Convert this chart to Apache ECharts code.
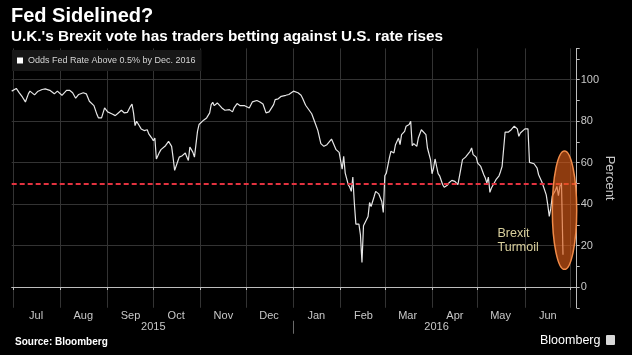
<!DOCTYPE html>
<html><head><meta charset="utf-8">
<script src="https://cdn.jsdelivr.net/npm/echarts@6/dist/echarts.min.js"></script>
<style>html,body{margin:0;padding:0;background:#000}#c{width:632px;height:355px}</style>
</head><body><div id="c"></div>
<script>
// ---------- data ----------
const dates = [
'2015-06-30','2015-07-03','2015-07-05','2015-07-07','2015-07-09','2015-07-11','2015-07-12','2015-07-15','2015-07-17','2015-07-20',
'2015-07-22','2015-07-25','2015-07-28','2015-07-30','2015-07-31','2015-08-02','2015-08-03','2015-08-05','2015-08-07','2015-08-08',
'2015-08-09','2015-08-11','2015-08-13','2015-08-16','2015-08-18','2015-08-20','2015-08-23','2015-08-25','2015-08-26','2015-08-28',
'2015-08-30','2015-09-01','2015-09-04','2015-09-06','2015-09-08','2015-09-10','2015-09-12','2015-09-14','2015-09-16','2015-09-17',
'2015-09-18','2015-09-19','2015-09-20','2015-09-22','2015-09-23','2015-09-24','2015-09-25','2015-09-27','2015-09-28','2015-09-30',
'2015-10-01','2015-10-02','2015-10-03','2015-10-05','2015-10-06','2015-10-07','2015-10-09','2015-10-11','2015-10-12','2015-10-13',
'2015-10-14','2015-10-15','2015-10-17','2015-10-18','2015-10-20','2015-10-22','2015-10-23','2015-10-24','2015-10-25','2015-10-27',
'2015-10-28','2015-10-30','2015-10-31','2015-11-03','2015-11-05','2015-11-07','2015-11-08','2015-11-09','2015-11-10','2015-11-12',
'2015-11-15','2015-11-17','2015-11-18','2015-11-20','2015-11-22','2015-11-23','2015-11-25','2015-11-27','2015-11-30','2015-12-03',
'2015-12-05','2015-12-08','2015-12-10','2015-12-12','2015-12-13','2015-12-14','2015-12-16','2015-12-19','2015-12-20','2015-12-22',
'2015-12-24','2015-12-27','2015-12-29','2016-01-01','2016-01-04','2016-01-06','2016-01-07','2016-01-09','2016-01-10','2016-01-13',
'2016-01-15','2016-01-17','2016-01-19','2016-01-20','2016-01-21','2016-01-23','2016-01-24','2016-01-26','2016-01-27','2016-01-29',
'2016-01-30','2016-01-31','2016-02-02','2016-02-03','2016-02-04','2016-02-06','2016-02-07','2016-02-08','2016-02-09','2016-02-10',
'2016-02-11','2016-02-13','2016-02-14','2016-02-15','2016-02-16','2016-02-17','2016-02-19','2016-02-20','2016-02-21','2016-02-23',
'2016-02-24','2016-02-26','2016-02-28','2016-02-29','2016-03-01','2016-03-02','2016-03-04','2016-03-05','2016-03-07','2016-03-08',
'2016-03-10','2016-03-11','2016-03-12','2016-03-14','2016-03-15','2016-03-17','2016-03-18','2016-03-19','2016-03-20','2016-03-22',
'2016-03-23','2016-03-25','2016-03-26','2016-03-28','2016-03-29','2016-03-31','2016-04-01','2016-04-02','2016-04-03','2016-04-04',
'2016-04-05','2016-04-06','2016-04-08','2016-04-09','2016-04-11','2016-04-12','2016-04-14','2016-04-15','2016-04-16','2016-04-18',
'2016-04-19','2016-04-21','2016-04-23','2016-04-24','2016-04-26','2016-04-27','2016-04-28','2016-04-30','2016-05-01','2016-05-03',
'2016-05-05','2016-05-06','2016-05-07','2016-05-08','2016-05-09','2016-05-10','2016-05-11','2016-05-13','2016-05-15','2016-05-16',
'2016-05-17','2016-05-19','2016-05-21','2016-05-23','2016-05-25','2016-05-27','2016-05-28','2016-05-29','2016-05-30','2016-06-01',
'2016-06-03','2016-06-04','2016-06-05','2016-06-07','2016-06-09','2016-06-10','2016-06-12','2016-06-13','2016-06-15','2016-06-16',
'2016-06-17','2016-06-18','2016-06-19','2016-06-21','2016-06-22','2016-06-23','2016-06-24','2016-06-25','2016-06-26'
];
const values = [
94.4,95.7,93.6,91.6,89.2,93.2,94.4,92.6,94.2,95.2,
95.5,94.8,93.1,94.4,94.8,92.4,92.8,94.8,94.8,94.5,
93.6,91.0,92.8,93.6,93.1,89.5,87.4,83.1,81.5,81.5,
86.3,84.4,83.4,82.6,83.9,85.2,83.9,84.2,87.1,88.1,
83.9,77.8,79.9,77.5,76.2,76.7,75.4,75.8,73.8,71.8,
70.5,71.8,61.7,64.9,66.2,65.4,68.1,70.2,71.0,67.8,
62.2,56.2,60.5,62.6,63.3,64.6,62.6,61.0,67.5,64.9,
62.6,75.0,78.3,80.4,81.5,83.9,87.9,89.0,87.4,88.7,
86.3,85.2,84.4,85.5,84.4,86.3,88.4,87.4,87.4,86.3,
89.2,89.9,89.2,88.2,88.7,83.9,84.4,87.9,90.3,90.7,
91.9,92.4,92.8,94.4,93.6,92.4,91.0,87.6,87.2,83.5,
79.5,75.5,69.1,69.1,67.8,68.6,67.8,71.3,70.7,66.2,
67.0,64.9,56.8,63.0,54.9,49.3,48.1,46.1,53.0,40.4,
30.3,30.3,25.1,11.8,29.5,30.0,34.0,40.7,38.8,43.6,
46.1,44.9,41.2,35.9,53.6,54.9,62.2,65.4,64.6,68.6,
71.8,68.6,73.4,75.0,77.5,78.3,79.9,68.1,69.1,67.8,
71.8,75.8,75.0,73.4,67.0,61.4,54.6,57.3,61.7,58.1,
54.6,53.6,49.3,48.1,49.0,50.1,51.4,52.0,50.9,49.3,
53.3,61.4,62.6,63.3,65.4,67.0,63.8,62.6,59.7,58.1,
54.1,52.5,50.1,53.0,45.6,47.7,48.5,51.7,53.6,55.7,
58.1,74.7,74.6,75.8,77.5,76.2,72.6,74.2,73.4,76.2,
76.2,60.1,61.0,59.4,57.3,54.1,50.9,48.8,44.4,39.6,
34.0,38.0,44.0,46.5,48.5,44.0,48.5,50.1,15.5
];
const seriesName = 'Odds Fed Rate Above 0.5% by Dec. 2016';
const axisStart = '2015-06-30';
const axisEnd = '2016-07-05';
const monthNames = ['Jan','Feb','Mar','Apr','May','Jun','Jul','Aug','Sep','Oct','Nov','Dec'];
const yTickLabels = [0, 20, 40, 60, 80, 100];
const yearLabelDates = ['2015-10-01', '2016-04-04'];
const yearLabelTexts = ['2015', '2016'];
const thresholdValue = 50;
// annotation: [center date, center value, half-width (days), half-height (value)]
const annotationEllipse = ['2016-06-27', 37, 7.75, 28.5];
const annotationText = ['2016-05-14', 29, 'Brexit\nTurmoil'];

// ---------- build ----------
const SANS = '"Liberation Sans",Arial,sans-serif';
function ymd(t){ return new Date(t).toISOString().slice(0,10); }
const days = [];
for (let t = Date.parse(axisStart + 'T00:00:00Z'); t <= Date.parse(axisEnd + 'T00:00:00Z'); t += 86400000) days.push(ymd(t));
const seriesData = dates.map((d, i) => [d, values[i]]);

const chart = echarts.init(document.getElementById('c'), null, {renderer: 'canvas'});
chart.setOption({
  backgroundColor: '#000',
  animation: false,
  title: [
    {text: 'Fed Sidelined?', left: 11, top: 6, padding: 0, textStyle: {color: '#fff', fontSize: 20, fontWeight: 'bold', fontFamily: SANS}},
    {text: "U.K.'s Brexit vote has traders betting against U.S. rate rises", left: 11, top: 29, padding: 0, textStyle: {color: '#fff', fontSize: 15.3, fontWeight: 'bold', fontFamily: SANS}},
    {text: 'Source: Bloomberg', left: 15, top: 337, padding: 0, textStyle: {color: '#fff', fontSize: 10, fontWeight: 'bold', fontFamily: SANS}},
    {text: 'Bloomberg', left: 540, top: 334, padding: 0, textStyle: {color: '#fff', fontSize: 12.5, fontWeight: 'normal', fontFamily: SANS}}
  ],
  graphic: [
    {type: 'rect', left: 606, top: 335, shape: {width: 9, height: 10, r: 1}, style: {fill: '#d8d8d8'}}
  ],
  legend: {
    data: [seriesName], left: 12, top: 50, padding: [6, 6, 6, 5],
    backgroundColor: '#171717', icon: 'rect', itemWidth: 6, itemHeight: 6,
    textStyle: {color: '#d4d4d4', fontSize: 9, fontFamily: SANS}
  },
  grid: {left: 11.7, right: 55.3, top: 48.4, bottom: 47.25, containLabel: false},
  xAxis: [
    {
      type: 'category', data: days, boundaryGap: false, position: 'bottom',
      axisLine: {show: true, lineStyle: {color: '#bdbdbd', width: 1}},
      axisTick: {show: true, length: 3, interval: (i, v) => v.slice(8) === '01', lineStyle: {color: '#bdbdbd'}},
      axisLabel: {interval: (i, v) => v.slice(8) === '16', formatter: v => monthNames[+v.slice(5, 7) - 1],
        color: '#c8c8c8', fontSize: 11, fontFamily: SANS, margin: 3},
      splitLine: {show: true, interval: (i, v) => v.slice(8) === '01', lineStyle: {color: '#333', width: 1}}
    },
    {
      type: 'category', data: days, boundaryGap: false, position: 'bottom', offset: 13,
      axisLine: {show: false},
      axisTick: {show: true, length: 13, interval: (i, v) => v.slice(5) === '01-01', lineStyle: {color: '#6a6a6a'}},
      axisLabel: {interval: (i, v) => yearLabelDates.indexOf(v) >= 0, formatter: v => yearLabelTexts[yearLabelDates.indexOf(v)] || '',
        color: '#c8c8c8', fontSize: 11, fontFamily: SANS, margin: 1},
      splitLine: {show: false}
    }
  ],
  yAxis: {
    type: 'value', position: 'right', min: -10, max: 115, interval: 10,
    axisLine: {show: true, lineStyle: {color: '#bdbdbd'}},
    axisTick: {show: true, length: 3, lineStyle: {color: '#bdbdbd'}},
    axisLabel: {formatter: v => yTickLabels.indexOf(v) >= 0 ? String(v) : '', color: '#c8c8c8', fontSize: 11, fontFamily: SANS, margin: 4},
    splitLine: {show: true, showMaxLine: false, lineStyle: {color: ['rgba(0,0,0,0)', '#333'], width: 1}},
    name: 'Percent', nameLocation: 'middle', nameRotate: -90, nameGap: 26, nameMoveOverlap: false,
    nameTextStyle: {color: '#c8c8c8', fontSize: 13, fontFamily: SANS}
  },
  series: [
    {
      type: 'line', name: seriesName, xAxisIndex: 0, data: seriesData, symbol: 'none', showSymbol: false,
      lineStyle: {color: '#e6e6e6', width: 1.2}, itemStyle: {color: '#ffffff'}, z: 3,
      markLine: {silent: true, symbol: 'none', label: {show: false},
        lineStyle: {color: '#e2323f', type: [5, 3], width: 2}, data: [{yAxis: thresholdValue}]}
    },
    {
      type: 'custom', name: 'ellipse', xAxisIndex: 0, silent: true, z: 6,
      data: [annotationEllipse],
      renderItem: (params, api) => {
        const ix = api.value(0), cv = api.value(1), hw = api.value(2), hh = api.value(3);
        const p0 = api.coord([ix - hw, cv + hh]);
        const p1 = api.coord([ix + hw, cv - hh]);
        return {
          type: 'ellipse',
          shape: {cx: (p0[0] + p1[0]) / 2, cy: (p0[1] + p1[1]) / 2, rx: Math.abs(p1[0] - p0[0]) / 2, ry: Math.abs(p1[1] - p0[1]) / 2},
          style: {fill: 'rgba(228,96,24,0.62)', stroke: '#f08a48', lineWidth: 1.5}
        };
      }
    },
    {
      type: 'custom', name: 'note', xAxisIndex: 0, silent: true, z: 6,
      data: [annotationText],
      renderItem: (params, api) => {
        const p = api.coord([api.value(0), api.value(1)]);
        return {
          type: 'text', x: p[0], y: p[1],
          style: {text: annotationText[2], fill: '#d8cf9c', fontSize: 12.5, fontFamily: SANS, lineHeight: 14,
            align: 'left', verticalAlign: 'top', textAlign: 'left', textVerticalAlign: 'top'}
        };
      }
    }
  ]
});
</script></body></html>
